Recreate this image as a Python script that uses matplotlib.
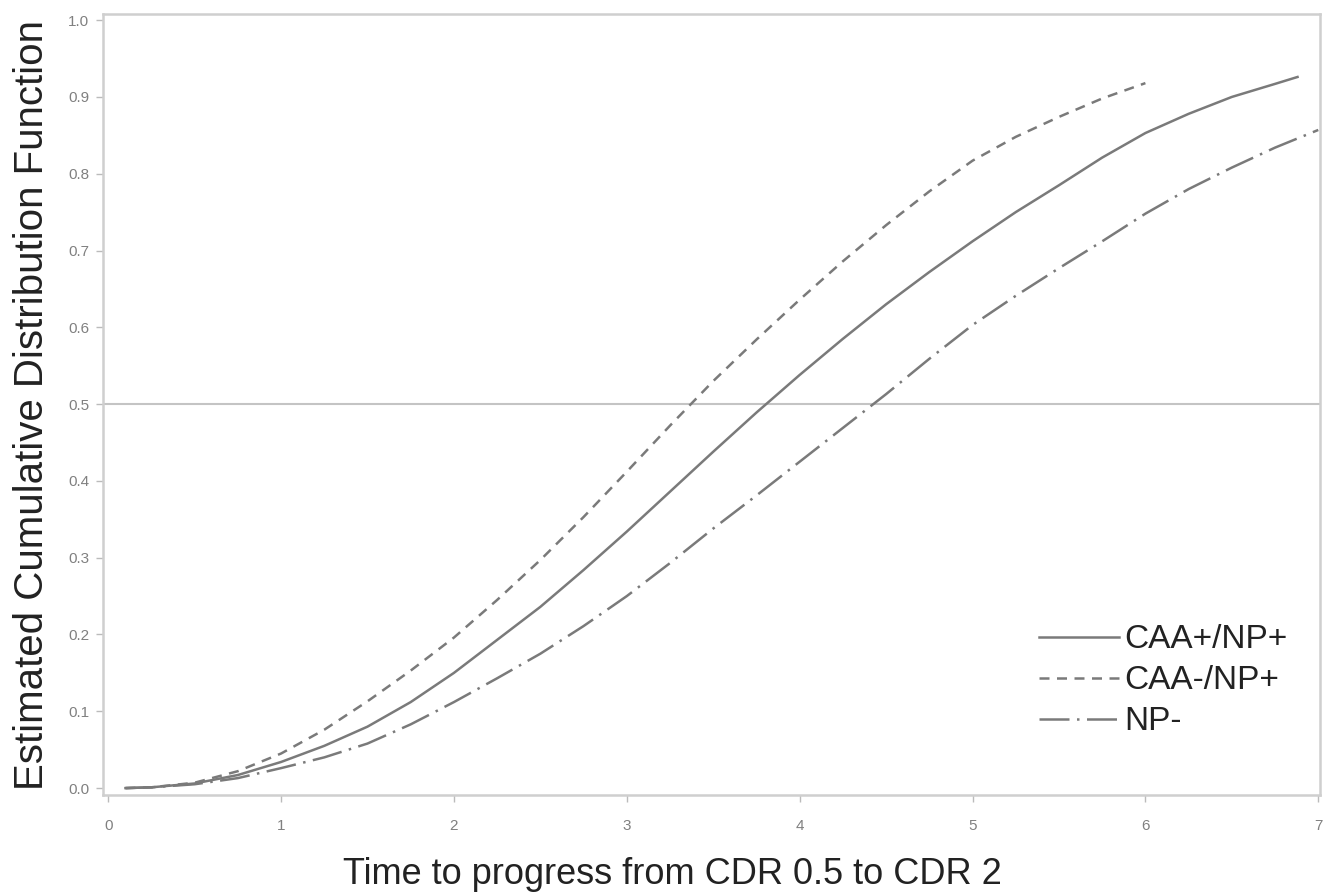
import matplotlib
matplotlib.use("Agg")
import matplotlib.pyplot as plt

plt.rcParams['font.family'] = ['Liberation Sans', 'DejaVu Sans']

# time (years) and estimated CDF for each group
t_caa_np = [0.1, 0.25, 0.5, 0.75, 1.0, 1.25, 1.5, 1.75, 2.0, 2.25, 2.5, 2.75, 3.0,
            3.25, 3.5, 3.75, 4.0, 4.25, 4.5, 4.75, 5.0, 5.25, 5.5, 5.75, 6.0,
            6.25, 6.5, 6.75, 6.88]
cdf_caa_np = [0.000, 0.001, 0.006, 0.017, 0.034, 0.055, 0.080, 0.112, 0.150, 0.193,
              0.236, 0.284, 0.334, 0.386, 0.438, 0.489, 0.538, 0.585, 0.630, 0.672,
              0.712, 0.750, 0.785, 0.821, 0.853, 0.878, 0.900, 0.917, 0.926]

t_nocaa_np = [0.1, 0.25, 0.5, 0.75, 1.0, 1.25, 1.5, 1.75, 2.0, 2.25, 2.5, 2.75, 3.0,
              3.25, 3.5, 3.75, 4.0, 4.25, 4.5, 4.75, 5.0, 5.25, 5.5, 5.75, 6.0]
cdf_nocaa_np = [0.000, 0.001, 0.007, 0.022, 0.045, 0.076, 0.113, 0.153, 0.196, 0.245,
                0.297, 0.353, 0.412, 0.472, 0.530, 0.584, 0.636, 0.686, 0.733, 0.777,
                0.817, 0.848, 0.874, 0.898, 0.918]

t_np_neg = [0.1, 0.25, 0.5, 0.75, 1.0, 1.25, 1.5, 1.75, 2.0, 2.25, 2.5, 2.75, 3.0,
            3.25, 3.5, 3.75, 4.0, 4.25, 4.5, 4.75, 5.0, 5.25, 5.5, 5.75, 6.0,
            6.25, 6.5, 6.75, 7.0]
cdf_np_neg = [0.000, 0.001, 0.005, 0.013, 0.026, 0.040, 0.058, 0.083, 0.112, 0.143,
              0.175, 0.211, 0.250, 0.293, 0.338, 0.381, 0.425, 0.469, 0.513, 0.559,
              0.603, 0.641, 0.677, 0.712, 0.748, 0.780, 0.808, 0.834, 0.857]

labels = ['CAA+/NP+', 'CAA-/NP+', 'NP-']
x_ticks = [0, 1, 2, 3, 4, 5, 6, 7]
y_ticks = [0.0, 0.1, 0.2, 0.3, 0.4, 0.5, 0.6, 0.7, 0.8, 0.9, 1.0]
ref_level = 0.5

line_col = '#7a7a7a'
frame_col = '#cfcfcf'

fig = plt.figure(figsize=(13.24, 8.96), dpi=100)
ax = fig.add_axes([103 / 1324, 1 - 795 / 896, (1320 - 103) / 1324, (795 - 14) / 896])

ax.axhline(ref_level, color='#c4c4c4', lw=1.5, zorder=1)

ax.plot(t_caa_np, cdf_caa_np, color=line_col, lw=1.8, ls='-', label=labels[0])
ax.plot(t_nocaa_np, cdf_nocaa_np, color=line_col, lw=1.8, ls=(0, (4, 3)), label=labels[1])
ax.plot(t_np_neg, cdf_np_neg, color=line_col, lw=1.8, ls=(0, (12, 3, 1, 3)), label=labels[2])

ax.set_xlim(-0.03, 7.01)
ax.set_ylim(-0.009, 1.008)
ax.set_xticks(x_ticks)
ax.set_yticks(y_ticks)
ax.set_yticklabels(['%.1f' % v for v in y_ticks])

for s in ax.spines.values():
    s.set_color(frame_col)
    s.set_linewidth(1.8)
ax.tick_params(direction='out', length=5, width=1, color='#bbbbbb',
               labelcolor='#808080', labelsize=11)
ax.tick_params(axis='x', pad=12)
ax.tick_params(axis='y', pad=5)

ax.set_xlabel('Time to progress from CDR 0.5 to CDR 2', fontsize=26, color='#222222')
ax.xaxis.set_label_coords(0.468, -0.079)
ax.set_ylabel('Estimated Cumulative Distribution Function', fontsize=29, color='#222222', labelpad=12)

leg = ax.legend(loc='center right', bbox_to_anchor=(0.998, 0.146), frameon=False,
                fontsize=24, handlelength=2.4, handletextpad=0.15, labelspacing=0.3)
for txt in leg.get_texts():
    txt.set_color('#222222')

fig.savefig('out.png', dpi=100)
